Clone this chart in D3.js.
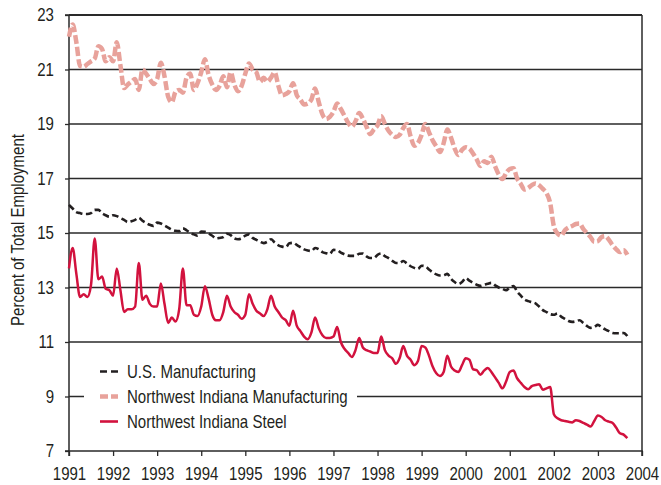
<!DOCTYPE html>
<html>
<head>
<meta charset="utf-8">
<script src="https://cdn.jsdelivr.net/npm/d3@7"></script>
<style>
  html, body { margin: 0; padding: 0; background: #fff; }
  svg { display: block; }
  text { font-family: "Liberation Sans", Arial, sans-serif; fill: #231f20; }
</style>
</head>
<body>
<svg id="chart" width="661" height="485"></svg>
<script>
// ---- Data (monthly, Jan 1991 – Sep 2003) ----
const startYear = 1991;
const yearTicks = [1991, 1992, 1993, 1994, 1995, 1996, 1997, 1998, 1999, 2000, 2001, 2002, 2003, 2004];
const yTicks = [7, 9, 11, 13, 15, 17, 19, 21, 23];
const seriesNames = ["U.S. Manufacturing", "Northwest Indiana Manufacturing", "Northwest Indiana Steel"];

const usManufacturing = [
  16.03, 15.9, 15.77, 15.73, 15.7, 15.7, 15.73, 15.85, 15.85, 15.72, 15.65, 15.6,
  15.65, 15.62, 15.55, 15.48, 15.4, 15.43, 15.48, 15.56, 15.45, 15.37, 15.3, 15.26,
  15.38, 15.35, 15.28, 15.2, 15.12, 15.08, 15.07, 15.17, 15.1, 15.0, 14.95, 14.9,
  15.05, 15.04, 14.98, 14.9, 14.8, 14.82, 14.85, 14.97, 14.92, 14.8, 14.77, 14.8,
  14.9, 14.95, 14.82, 14.75, 14.68, 14.63, 14.68, 14.77, 14.65, 14.55, 14.5, 14.48,
  14.62, 14.64, 14.56, 14.48, 14.4, 14.36, 14.34, 14.45, 14.4, 14.3, 14.26, 14.23,
  14.38, 14.37, 14.28, 14.22, 14.17, 14.16, 14.16, 14.24, 14.25, 14.14, 14.08, 14.08,
  14.2, 14.25, 14.15, 14.08, 13.98, 13.9, 13.9, 13.97, 13.88, 13.78, 13.72, 13.68,
  13.8, 13.78, 13.66, 13.56, 13.48, 13.44, 13.45, 13.5, 13.32, 13.2, 13.13, 13.2,
  13.35, 13.25, 13.17, 13.1, 13.06, 13.1, 13.14, 13.17, 13.08, 13.0, 12.95, 12.9,
  13.0, 13.05, 12.85, 12.7, 12.56, 12.5, 12.46, 12.42, 12.3, 12.17, 12.1, 12.02,
  12.0, 12.05, 11.93, 11.85, 11.77, 11.74, 11.76, 11.8, 11.7, 11.59, 11.52, 11.55,
  11.63, 11.55, 11.46, 11.4, 11.33, 11.32, 11.32, 11.33, 11.22
];

const nwiManufacturing = [
  22.2, 22.65, 22.0, 21.13, 21.1, 21.2, 21.3, 21.4, 21.85, 21.75, 21.3, 21.45,
  21.3, 22.0, 21.15, 20.32, 20.45, 20.55, 20.65, 20.25, 21.0, 20.85, 20.65, 20.47,
  20.65, 21.25, 20.75, 20.0, 19.8, 20.18, 20.25, 20.15, 20.7, 20.85, 20.25, 20.5,
  20.9, 21.38, 20.8, 20.45, 20.25, 20.4, 20.75, 20.35, 20.9, 20.45, 20.2, 20.4,
  20.85, 21.22, 21.0, 20.9, 20.55, 20.7, 20.55, 20.7, 20.9, 20.4, 20.05, 20.1,
  20.2, 20.5, 20.06, 19.9, 19.72, 19.75, 19.9, 20.3, 19.8, 19.35, 19.18, 19.26,
  19.45, 19.75, 19.55, 19.3, 19.05, 18.9, 19.1, 19.4, 19.2, 18.9, 18.63, 18.8,
  18.95, 19.28, 19.0, 18.75, 18.6, 18.52, 18.6, 18.85, 19.0, 18.55, 18.2, 18.3,
  18.6, 19.0, 18.7, 18.4, 18.18, 17.97, 18.3, 18.8, 18.5, 18.1, 17.86, 18.05,
  18.15, 18.1, 17.92, 17.7, 17.46, 17.63, 17.57, 17.8, 17.45, 17.15, 16.98, 17.2,
  17.35, 17.38, 17.0, 16.8, 16.6, 16.65, 16.76, 16.82, 16.75, 16.62, 16.47, 16.1,
  15.25, 14.98, 14.9, 15.1, 15.2, 15.26, 15.33, 15.35, 15.15, 15.0, 14.85, 14.68,
  14.7, 14.85, 14.88, 14.75, 14.55, 14.4, 14.3, 14.37, 14.2
];

const nwiSteel = [
  13.7, 14.45, 13.5, 12.65, 12.75, 12.65, 13.1, 14.8, 13.3, 13.4, 12.95, 12.9,
  12.7, 13.7, 12.9, 12.1, 12.2, 12.2, 12.3, 13.9, 12.55, 12.7, 12.4, 12.3,
  12.3, 13.15, 12.4, 11.7, 11.9, 11.75, 12.2, 13.7, 12.35, 12.35, 12.0, 11.95,
  12.3, 13.05, 12.6, 12.0, 11.8, 11.8, 12.1, 12.7, 12.3, 12.1, 12.0, 11.85,
  12.0, 12.75, 12.4, 12.15, 12.05, 11.95, 12.2, 12.7, 12.3, 12.1, 11.9, 11.8,
  11.6, 12.15, 11.6, 11.4, 11.2, 11.1, 11.35, 11.9, 11.5, 11.25, 11.15, 11.15,
  11.2, 11.55, 11.0, 10.75, 10.6, 10.45, 10.7, 11.15, 10.8, 10.7, 10.65, 10.6,
  10.6, 11.2, 10.7, 10.5, 10.4, 10.2, 10.4, 10.85, 10.5, 10.35, 10.15, 10.3,
  10.85, 10.8, 10.5, 10.1, 9.85, 9.75, 9.9, 10.5, 10.1, 9.95, 9.9, 10.15,
  10.4, 10.35, 10.0, 9.97, 9.8, 9.95, 10.05, 9.9, 9.7, 9.5, 9.3, 9.55,
  9.9, 9.95, 9.67, 9.5, 9.35, 9.27, 9.38, 9.42, 9.45, 9.25, 9.3, 9.35,
  8.35, 8.2, 8.13, 8.1, 8.07, 8.05, 8.13, 8.1, 8.03, 7.97, 7.9, 8.1,
  8.3, 8.25, 8.13, 8.08, 8.03, 7.85, 7.65, 7.6, 7.47
];

// ---- Layout ----
const svg = d3.select("#chart");
const margin = { left: 69, right: 19, top: 15, bottom: 34 };
const W = 661, H = 485;
const x = d3.scaleLinear().domain([1991, 2004]).range([margin.left, W - margin.right]);
const y = d3.scaleLinear().domain([7, 23]).range([H - margin.bottom, margin.top]);
const FS = 17.5, SX = 0.86;   // narrow-font emulation
const ink = "#2a2a2a";

const toPoints = arr => arr.map((v, i) => ({ t: startYear + i / 12, v }));

// gridlines
svg.append("g").selectAll("line").data(yTicks.filter(d => d > 7)).join("line")
  .attr("x1", x(1991)).attr("x2", x(2004))
  .attr("y1", d => y(d)).attr("y2", d => y(d))
  .attr("stroke", ink).attr("stroke-width", d => d === 23 ? 2 : 1.3);

// right border
svg.append("line").attr("x1", x(2004)).attr("x2", x(2004))
  .attr("y1", y(23)).attr("y2", y(7)).attr("stroke", ink).attr("stroke-width", 1.5);

// legend background (hides gridline behind it)
svg.append("rect").attr("x", 84).attr("y", 356).attr("width", 273).attr("height", 80).attr("fill", "#fff");

// axes
const yAxis = svg.append("g").attr("transform", `translate(${x(1991)},0)`)
  .call(d3.axisLeft(y).tickValues(yTicks).tickSize(4).tickPadding(11).tickFormat(d3.format("d")));
const xAxis = svg.append("g").attr("transform", `translate(0,${y(7)})`)
  .call(d3.axisBottom(x).tickValues(yearTicks).tickSize(5).tickPadding(12).tickFormat(d3.format("d")));
[yAxis, xAxis].forEach(g => {
  g.attr("font-family", null).attr("font-size", null);
  g.selectAll(".domain").attr("stroke", ink).attr("stroke-width", 1.5);
  g.selectAll(".tick line").attr("stroke", ink).attr("stroke-width", 1.3);
  g.selectAll("text").attr("font-size", FS).style("fill", "#231f20")
    .each(function () {
      const t = d3.select(this);
      const tx = +t.attr("x") || 0;
      t.attr("x", tx / SX).attr("transform", `scale(${SX},1)`);
    });
});
yAxis.select(".domain").attr("d", `M-4,${y(23)}H0V${y(7)}H-4`);
xAxis.select(".domain").attr("d", `M${x(1991)},5V0H${x(2004)}V5`);

// y-axis title
svg.append("text")
  .attr("transform", `translate(24,230) rotate(-90) scale(${SX},1)`)
  .attr("text-anchor", "middle")
  .attr("font-size", FS)
  .text("Percent of Total Employment");

// series
const line = d3.line().x(d => x(d.t)).y(d => y(d.v)).curve(d3.curveMonotoneX);
const styles = [
  { data: nwiManufacturing, color: "#e8a29b", width: 4.5, dash: "9,3" },
  { data: usManufacturing, color: "#231f20", width: 2.6, dash: "6.5,3.5" },
  { data: nwiSteel, color: "#d2123e", width: 2.5, dash: null }
];
svg.append("g").selectAll("path").data(styles).join("path")
  .attr("d", s => line(toPoints(s.data)))
  .attr("fill", "none")
  .attr("stroke", s => s.color)
  .attr("stroke-width", s => s.width)
  .attr("stroke-dasharray", s => s.dash)
  .attr("stroke-linejoin", "round");

// legend
const legendItems = [
  { name: seriesNames[0], color: "#231f20", width: 2.6, dash: "7,4" },
  { name: seriesNames[1], color: "#e8a29b", width: 4.5, dash: "8,3" },
  { name: seriesNames[2], color: "#d2123e", width: 2.6, dash: null }
];
const lg = svg.append("g").selectAll("g").data(legendItems).join("g")
  .attr("transform", (d, i) => `translate(100,${371.5 + i * 25})`);
lg.append("line").attr("x1", 0).attr("x2", 18)
  .attr("stroke", d => d.color).attr("stroke-width", d => d.width)
  .attr("stroke-dasharray", d => d.dash);
lg.append("text").attr("transform", `translate(27,0) scale(${SX},1)`)
  .attr("dy", "0.36em").attr("font-size", FS).text(d => d.name);
</script>
</body>
</html>
